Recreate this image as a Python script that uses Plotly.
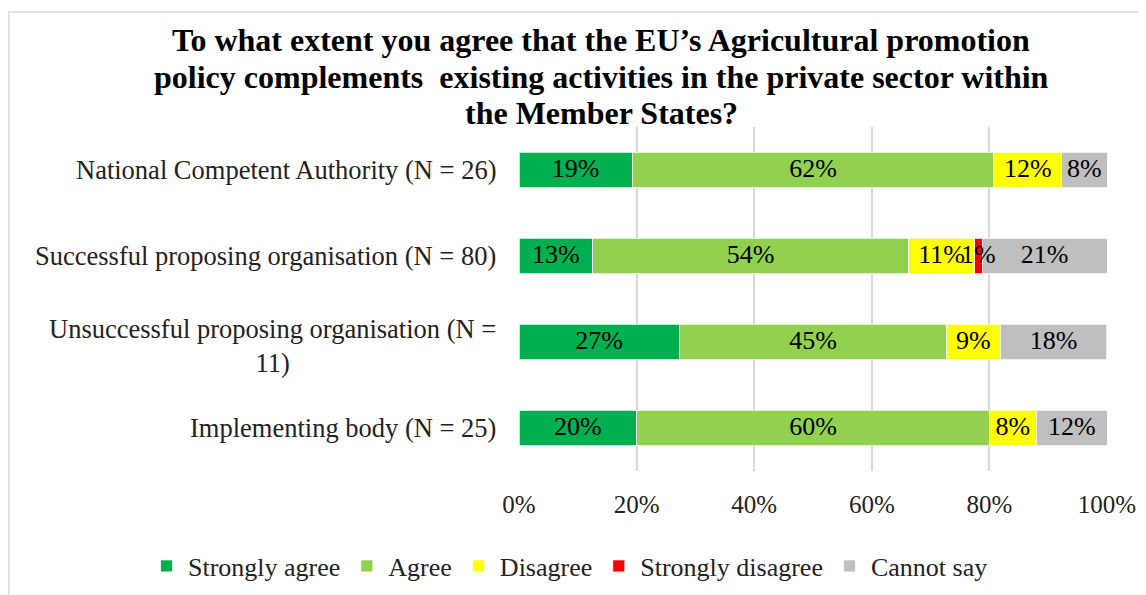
import plotly.graph_objects as go

categories = [
    "National Competent Authority (N = 26)",
    "Successful proposing organisation (N = 80)",
    "Unsuccessful proposing organisation (N =<br>11)",
    "Implementing body (N = 25)",
]
series_names = ["Strongly agree", "Agree", "Disagree", "Strongly disagree", "Cannot say"]
strongly_agree = [19.23, 12.5, 27.27, 20.0]
agree = [61.54, 53.75, 45.45, 60.0]
disagree = [11.54, 11.25, 9.09, 8.0]
strongly_disagree = [0.0, 1.25, 0.0, 0.0]
cannot_say = [7.69, 21.25, 18.18, 12.0]
colors = ["#00B050", "#92D050", "#FFFF00", "#FF0000", "#BFBFBF"]
x_ticks = [0, 20, 40, 60, 80, 100]
title_lines = [
    "To what extent you agree that the EU’s Agricultural promotion",
    "policy complements  existing activities in the private sector within",
    "the Member States?",
]

FONT = "Liberation Serif, Times New Roman, serif"
OFF = 8  # page body margin of the html page
W, H = 1146 - OFF, 595 - OFF
# plot area in page pixels: x 519..1107, y 127..471
L, R, T, B = 519 - OFF, W - (1107 - OFF), 127 - OFF, H - (471 - OFF)
PW, PH = W - L - R, H - T - B


def py(ypage):
    return (H - B - (ypage - OFF)) / PH


def px(xpage):
    return ((xpage - OFF) - L) / PW


fig = go.Figure()
all_series = [strongly_agree, agree, disagree, strongly_disagree, cannot_say]
for name, vals, col in zip(series_names, all_series, colors):
    fig.add_trace(go.Bar(
        y=categories, x=vals, name=name, orientation="h",
        marker=dict(color=col, line=dict(color="white", width=0.75)),
        hoverinfo="skip",
    ))

# data labels on top of all bars (centred on each segment)
lab_x, lab_y, lab_t = [], [], []
for i, c in enumerate(categories):
    base = 0.0
    for vals in all_series:
        v = vals[i]
        if v > 0:
            lab_x.append(base + v / 2)
            lab_y.append(c)
            lab_t.append(f"{int(v + 0.5)}%")
        base += v
fig.add_trace(go.Scatter(
    x=lab_x, y=lab_y, text=lab_t, mode="text", textposition="middle center",
    textfont=dict(family=FONT, size=26, color="black"),
    showlegend=False, hoverinfo="skip", cliponaxis=False,
))

for c in categories:
    fig.add_annotation(x=0, xref="paper", y=c, yref="y", text=c, showarrow=False,
                       xanchor="right", xshift=-21, yshift=(-4 if "<br>" in c else 0),
                       align="center",
                       font=dict(family=FONT, size=26.5, color="#222"))

title_y = [40, 77, 113]
for line, ty in zip(title_lines, title_y):
    fig.add_annotation(x=px(601), xref="paper", y=py(ty), yref="paper", text=f"<b>{line}</b>",
                       showarrow=False, xanchor="center", yanchor="middle",
                       font=dict(family=FONT, size=32, color="black"))

# outer chart frame
fig.add_shape(type="rect", xref="paper", yref="paper",
              x0=px(9), x1=px(1170), y0=py(620), y1=py(12),
              line=dict(color="#D9D9D9", width=1.5), fillcolor="rgba(0,0,0,0)", layer="below")

fig.update_layout(
    width=W, height=H, barmode="stack", bargap=0.59,
    margin=dict(l=L, r=R, t=T, b=B, autoexpand=False),
    paper_bgcolor="white", plot_bgcolor="white",
    font=dict(family=FONT, size=26, color="#222"),
    xaxis=dict(range=[0, 100], tickvals=x_ticks, ticktext=[f"{v}%" for v in x_ticks],
               showgrid=True, gridcolor="#D9D9D9", gridwidth=1.5, zeroline=False,
               showline=False, ticklabelstandoff=16, automargin=False,
               tickfont=dict(family=FONT, size=25, color="#222")),
    yaxis=dict(autorange="reversed", showticklabels=False, showgrid=False, zeroline=False,
               automargin=False),
    legend=dict(orientation="h", xref="paper", x=px(145), xanchor="left",
                yref="paper", y=py(566), yanchor="middle",
                font=dict(family=FONT, size=26, color="#222"), traceorder="normal",
                itemwidth=33),
    showlegend=True,
)

fig.write_html("out.html")
